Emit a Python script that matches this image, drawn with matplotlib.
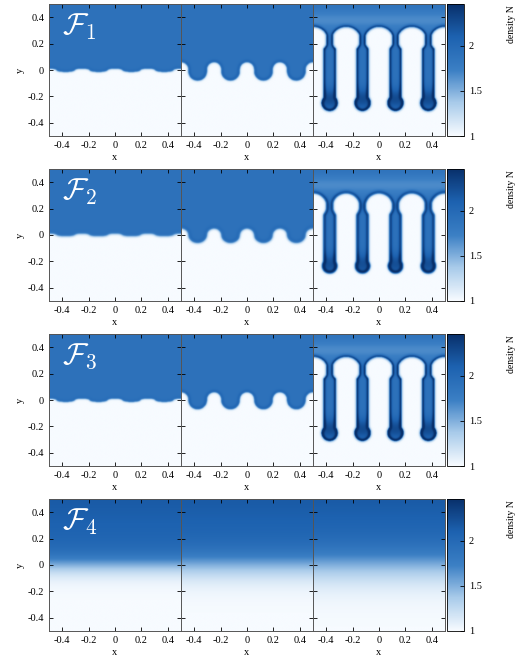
import numpy as np
import matplotlib
matplotlib.use("Agg")
import matplotlib.pyplot as plt
from matplotlib.colors import LinearSegmentedColormap

plt.rcParams["font.family"] = ["Liberation Serif", "DejaVu Serif"]
plt.rcParams["mathtext.fontset"] = "cm"

# ── data: interface parameters per row / panel ──
row_labels = [r"$\mathcal{F}_1$", r"$\mathcal{F}_2$", r"$\mathcal{F}_3$", r"$\mathcal{F}_4$"]
bubble_up = [[0.01, 0.06, 0.33], [0.01, 0.05, 0.32], [0.01, 0.06, 0.33], [0.0, 0.0, 0.0]]
finger_dn = [[0.015, 0.08, 0.31], [0.01, 0.06, 0.29], [0.015, 0.07, 0.31], [0.0, 0.0, 0.0]]
finger_hw = [[0.07, 0.07, 0.045], [0.07, 0.07, 0.045], [0.07, 0.07, 0.045], [0.06, 0.06, 0.06]]
tip_r = [[0.0, 0.0, 0.06], [0.0, 0.0, 0.055], [0.0, 0.0, 0.06], [0.0, 0.0, 0.0]]
cap_hw = [[0.0, 0.0, 0.11], [0.0, 0.0, 0.105], [0.0, 0.0, 0.11], [0.0, 0.0, 0.0]]
iface_w = [[0.008, 0.008, 0.006], [0.012, 0.012, 0.007], [0.008, 0.009, 0.006], [0.05, 0.07, 0.09]]
rim_amp = [[0.1, 0.2, 0.6], [0.05, 0.15, 0.55], [0.08, 0.2, 0.6], [0.0, 0.0, 0.0]]
finger_x = [-0.375, -0.125, 0.125, 0.375]
bubble_x = [-0.5, -0.25, 0.0, 0.25, 0.5]
top_density = [1.9, 1.9, 1.9, 2.0]
cbar_ticks = [1, 1.5, 2]
xticks = [-0.4, -0.2, 0, 0.2, 0.4]
xticklabels = ["-0.4", "-0.2", "0", "0.2", "0.4"]

cmap = LinearSegmentedColormap.from_list("dens", ["#f7fbff", "#a9cbea", "#3b7fc4", "#1d62b0", "#08306b"])
VMIN, VMAX = 1.0, 2.46

n = 320
x = np.linspace(-0.5, 0.5, n)
y = np.linspace(-0.5, 0.5, n)
X, Y = np.meshgrid(x, y)


def smooth(a, s):
    k = np.arange(-3 * s, 3 * s + 1)
    g = np.exp(-0.5 * (k / s) ** 2)
    g /= g.sum()
    f = lambda v: np.convolve(np.pad(v, len(k) // 2, mode="edge"), g, "valid")
    return np.apply_along_axis(f, 0, np.apply_along_axis(f, 1, a))


def interface(r, p):
    d = np.min(np.abs(x[:, None] - np.array(finger_x)[None, :]), axis=1)
    fw = finger_hw[r][p]
    bw = 0.125 - fw
    up, dn = bubble_up[r][p], finger_dn[r][p]
    h = np.empty_like(x)
    inf = d < fw
    rf = min(fw, dn)
    h[inf] = -dn + rf * (1 - np.sqrt(np.clip(1 - (d[inf] / fw) ** 2, 0, 1)))
    e = 0.125 - d[~inf]
    rb = min(bw, up)
    h[~inf] = up - rb * (1 - np.sqrt(np.clip(1 - (e / bw) ** 2, 0, 1)))
    return h


def field(r, p):
    if r == 3:
        ind = 1 / (1 + np.exp(-Y / iface_w[r][p]))
        return 1 + (top_density[r] - 1) * ind + 0.3 * np.clip(Y, 0, 0.5)
    h = interface(r, p)
    light = Y < h[None, :]
    cw = cap_hw[r][p]
    if cw > 0:
        up = bubble_up[r][p]
        for xb in bubble_x:
            light |= ((X - xb) / cw) ** 2 + ((Y - (up - 0.1)) / 0.1) ** 2 < 1
        rt = tip_r[r][p]
        for xf in finger_x:
            light &= ~(((X - xf) ** 2 + (Y - (-finger_dn[r][p] + rt)) ** 2) < rt ** 2)
            light &= ~((np.abs(X - xf) < finger_hw[r][p] * 0.5) & (Y > -finger_dn[r][p] + rt))
    ind = smooth((~light).astype(float), max(1, int(iface_w[r][p] * n)))
    gy, gx = np.gradient(ind)
    rim = smooth(np.hypot(gx, gy) * ind, 3)
    rim = rim / (rim.max() + 1e-9)
    if cw > 0:
        # heavy fluid above the caps is partly mixed, finger tips are dense
        ind = ind * (1 - 0.25 * np.exp(-((Y - 0.38) / 0.08) ** 2))
        rim = rim + 0.6 * ind * np.exp(-((Y + 0.22) / 0.08) ** 2)
    return 1 + (top_density[r] - 1) * ind + rim_amp[r][p] * rim


fig = plt.figure(figsize=(5.2, 6.57), dpi=100)
W, H = 520, 657
row_top = [4, 169, 334, 499]
col_left = [49, 181, 313]
pw, ph = 132, 132

for r in range(4):
    for p in range(3):
        ax = fig.add_axes([col_left[p] / W, 1 - (row_top[r] + ph) / H, pw / W, ph / H])
        im = ax.imshow(field(r, p), origin="lower", extent=[-0.5, 0.5, -0.5, 0.5],
                       cmap=cmap, vmin=VMIN, vmax=VMAX, aspect="auto", interpolation="bilinear")
        ax.set_xticks(xticks)
        ax.set_xticklabels(xticklabels, fontsize=7.5)
        ax.set_yticks(xticks)
        ax.tick_params(direction="in", top=True, right=True, length=3, width=0.6)
        if p == 0:
            ax.set_yticklabels(xticklabels, fontsize=7.5)
            ax.set_ylabel("y", fontsize=7.5, labelpad=2)
            ax.text(0.1, 0.83, row_labels[r], transform=ax.transAxes, color="white", fontsize=22, va="center")
        else:
            ax.set_yticklabels([])
        ax.set_xlabel("x", fontsize=7.5, labelpad=2)
        for s in ax.spines.values():
            s.set_linewidth(0.7)
            s.set_color("#555555")
    cax = fig.add_axes([447 / W, 1 - (row_top[r] + ph) / H, 17 / W, ph / H])
    cb = fig.colorbar(im, cax=cax, ticks=cbar_ticks)
    cb.ax.set_yticklabels(["1", "1.5", "2"], fontsize=7.5)
    cb.ax.tick_params(direction="in", length=3, width=0.6)
    cb.outline.set_linewidth(0.6)
    fig.text(511 / W, 1 - (row_top[r] + 20) / H, "density N", rotation=90, fontsize=7, ha="center", va="center")

fig.savefig("out.png", dpi=100)
